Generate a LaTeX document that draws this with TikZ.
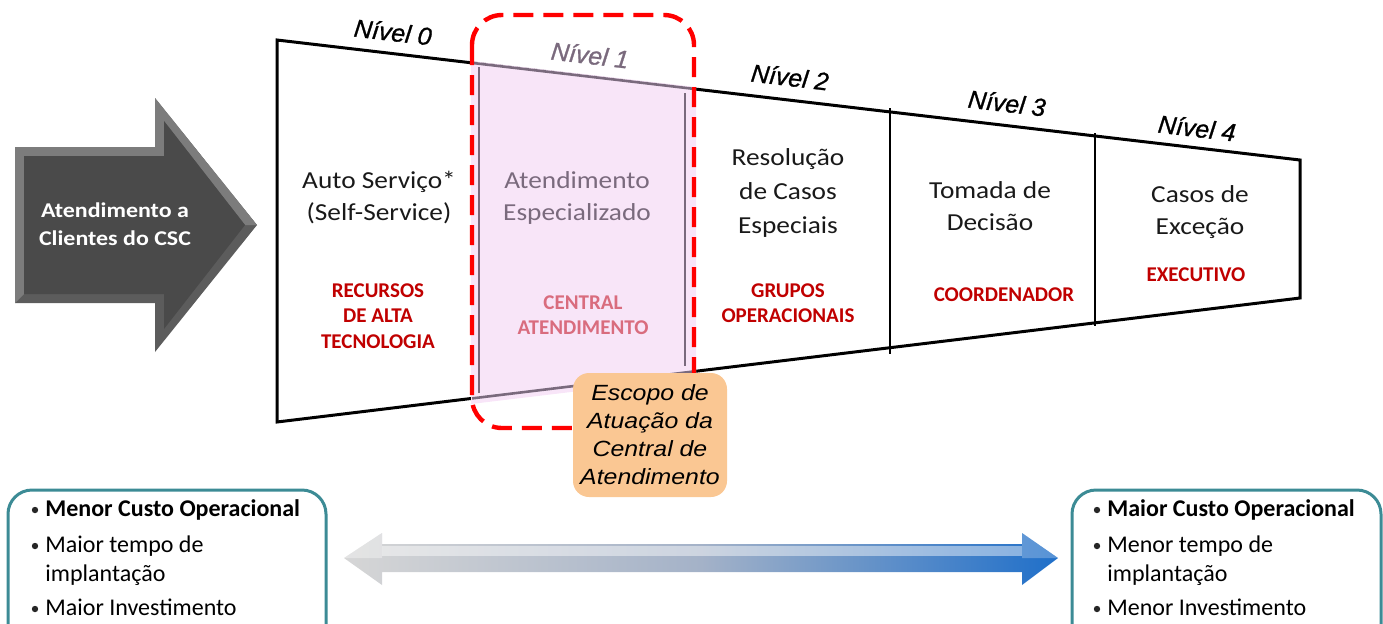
\documentclass[tikz,border=0pt]{standalone}
\usepackage{fontspec}
\setmainfont{Carlito}
\newfontfamily\arialf{Liberation Sans}
\newfontfamily\arialfb[ItalicFeatures={FakeBold=1.0}]{Liberation Sans}
\definecolor{lblred}{HTML}{C00000}
\definecolor{pinkfill}{HTML}{F8E5F8}
\definecolor{pgray}{HTML}{7A6A7D}
\definecolor{cenred}{HTML}{D96C7E}
\definecolor{tealc}{HTML}{3C8B95}
\definecolor{peach}{HTML}{FAC793}
\definecolor{dashred}{HTML}{FF0000}
\definecolor{arrdark}{HTML}{4A4A4A}
\definecolor{arrmid}{HTML}{5C5C5C}
\definecolor{arrlight}{HTML}{7C7C7C}
\definecolor{blueR}{HTML}{1F6FC9}
\definecolor{grayL}{HTML}{D6D6D6}
\definecolor{midB}{HTML}{A4B2C8}
\tikzset{
  outl/.style={line width=1.5pt, black, line join=miter},
  divl/.style={line width=1pt, black},
  pline/.style={line width=1.3pt, pgray},
  mtext/.style={font=\fontsize{12.2}{16}\selectfont, align=center, xscale=1.12, transform shape, inner sep=0pt, text=black!90},
  rlabel/.style={font=\bfseries\fontsize{10.5}{12.8}\selectfont, text=lblred, align=center, inner sep=0pt},
  nivel/.style={font=\arialfb\itshape\fontsize{12.5}{14}\selectfont, rotate=-6.7, inner sep=0pt},
  esctext/.style={font=\arialf\itshape\fontsize{11}{14}\selectfont, align=center, xscale=1.13, transform shape, inner sep=0pt},
  escbox/.style={fill=peach, rounded corners=8pt, minimum width=77pt, minimum height=62pt, inner sep=0pt},
  reddash/.style={dashred, line width=2.2pt, dash pattern=on 10pt off 5pt, rounded corners=15pt},
  tbox/.style={tealc, line width=1.5pt, rounded corners=12pt},
  btext/.style={font=\fontsize{12}{14}\selectfont, anchor=base west, inner sep=0pt},
  bul/.style={circle, fill=black!85, inner sep=0pt, minimum size=3.2pt},
  arrtext/.style={font=\bfseries\fontsize{10.5}{14}\selectfont, text=white, align=center, xscale=1.14, transform shape, inner sep=0pt}
}
\begin{document}
\begin{tikzpicture}[x=0.5pt,y=-0.5pt]
\useasboundingbox (0,0) rectangle (1383,623);

% ---- big gray arrow
\fill[arrmid] (15,147) -- (155,147) -- (155,98) -- (257,225) -- (155,352) -- (155,303) -- (15,303) -- cycle;
\fill[arrlight] (15,147) -- (155,147) -- (155,98) -- (257,225) -- (245,225) -- (164,121) -- (164,156) -- (24,156) -- (24,294) -- (15,303) -- cycle;
\fill[arrdark] (24,156) -- (164,156) -- (164,121) -- (245,225) -- (164,329) -- (164,294) -- (24,294) -- cycle;
\node[arrtext] (arrt) at (115,224) {Atendimento a\\Clientes do CSC};

% ---- main trapezoid
\draw[outl] (277,40) -- (1300,160) -- (1300,298) -- (277,422) -- cycle;
% pink region
\fill[pinkfill] (471,61) -- (696,87) -- (696,377) -- (471,404) -- cycle;
\draw[pline] (472,62.9) -- (695,89);
\draw[pline] (472,398.4) -- (695,371.3);
\draw[pline] (479,67) -- (479,393);
\draw[pline] (685,93) -- (685,366);
% dividers
\draw[divl] (890,108) -- (890,354);
\draw[divl] (1095,133) -- (1095,326);

% ---- level labels
\node[nivel] (n0) at (393,32) {Nível 0};
\node[nivel, text=pgray] (n1) at (590,55) {Nível 1};
\node[nivel] (n2) at (790,77) {Nível 2};
\node[nivel] (n3) at (1007,103) {Nível 3};
\node[nivel] (n4) at (1197,128) {Nível 4};

% ---- main texts
\node[mtext] (t0) at (379,198) {Auto Serviço*\\(Self-Service)};
\node[mtext, text=pgray] (t1) at (577,198) {Atendimento\\Especializado};
\node[mtext, font=\fontsize{12.2}{17}\selectfont] (t2) at (788,193) {Resolução\\de Casos\\Especiais};
\node[mtext] (t3) at (990,206) {Tomada de\\Decisão};
\node[mtext] (t4) at (1200,212) {Casos de\\Exceção};

\node[rlabel] (r0) at (378,316) {RECURSOS\\DE ALTA\\TECNOLOGIA};
\node[rlabel, text=cenred] (r1) at (583,315) {CENTRAL\\ATENDIMENTO};
\node[rlabel] (r2) at (788,303) {GRUPOS\\OPERACIONAIS};
\node[rlabel] (r3) at (1004,295) {COORDENADOR};
\node[rlabel] (r4) at (1196,275) {EXECUTIVO};

% ---- red dashed scope
\draw[reddash] (472,15) rectangle (694,428);

% ---- escopo box
\node[escbox] (escbox) at (650,435) {};
\node[esctext] (esct) at (escbox.center) {Escopo de\\Atuação da\\Central de\\Atendimento};

% ---- bottom boxes
\draw[tbox] (8,490) rectangle (326,650);
\draw[tbox] (1072,490) rectangle (1381,650);

\node[bul] (lb1) at (35,510) {};
\node[btext] (l1) at (45,516.5) {\bfseries Menor Custo Operacional};
\node[bul] (lb2) at (35,546) {};
\node[btext] (l2) at (45,552.5) {Maior tempo de};
\node[btext] (l3) at (45,581) {implantação};
\node[bul] (lb4) at (35,609) {};
\node[btext] (l4) at (45,615.5) {Maior Investimento};

\node[bul] (rb1) at (1097,510) {};
\node[btext] (r1t) at (1107,516.5) {\bfseries Maior Custo Operacional};
\node[bul] (rb2) at (1097,546) {};
\node[btext] (r2t) at (1107,552.5) {Menor tempo de};
\node[btext] (r3t) at (1107,581) {implantação};
\node[bul] (rb4) at (1097,609) {};
\node[btext] (r4t) at (1107,615.5) {Menor Investimento};

% ---- double arrow
\shade[left color=grayL, right color=blueR, middle color=midB]
  (344,558) -- (382,533) -- (382,544) -- (1022,544) -- (1022,533) -- (1058,558) -- (1022,585) -- (1022,572) -- (382,572) -- (382,585) -- cycle;
\fill[white, opacity=0.45] (382,546) rectangle (1022,556);
\fill[white, opacity=0.35] (344,558) -- (382,533) -- (382,558) -- cycle;
\fill[white, opacity=0.25] (1058,558) -- (1022,533) -- (1022,558) -- cycle;
\end{tikzpicture}
\end{document}
